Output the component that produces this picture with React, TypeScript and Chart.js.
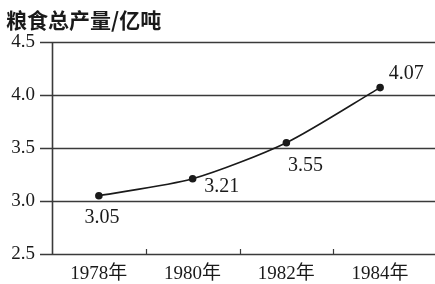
import React, { useEffect, useRef } from "react";
import { Chart, registerables } from "chart.js";

Chart.register(...registerables);

const titleText = "粮食总产量/亿吨";
const categories = ["1978年", "1980年", "1982年", "1984年"];
const values = [3.05, 3.21, 3.55, 4.07];
const valueLabels = ["3.05", "3.21", "3.55", "4.07"];
const yTicks = [2.5, 3.0, 3.5, 4.0, 4.5];

const INK = "#1a1a1a";
const GRID = "#3a3a3a";
const SERIF = "'Liberation Serif', 'Noto Sans CJK SC', serif";

const decorPlugin = {
  id: "decor",
  beforeDatasetsDraw(chart: any) {
    const { ctx, chartArea, scales } = chart;
    const y = scales.y;
    const x = scales.x;
    ctx.save();
    ctx.strokeStyle = GRID;
    ctx.lineWidth = 1.6;
    yTicks.forEach((t) => {
      const py = Math.round(y.getPixelForValue(t)) + 0.5;
      ctx.beginPath();
      ctx.moveTo(chartArea.left - 12, py);
      ctx.lineTo(chart.width, py);
      ctx.stroke();
    });
    ctx.beginPath();
    ctx.moveTo(chartArea.left + 0.5, chartArea.top);
    ctx.lineTo(chartArea.left + 0.5, chartArea.bottom);
    ctx.stroke();
    ctx.lineWidth = 1.2;
    for (let i = 0; i < categories.length - 1; i++) {
      const px = Math.round((x.getPixelForValue(i) + x.getPixelForValue(i + 1)) / 2) + 0.5;
      ctx.beginPath();
      ctx.moveTo(px, chartArea.bottom);
      ctx.lineTo(px, chartArea.bottom - 5);
      ctx.stroke();
    }
    ctx.restore();
  },
  afterDatasetsDraw(chart: any) {
    const { ctx } = chart;
    const meta = chart.getDatasetMeta(0);
    const offsets = [
      [3, 22],
      [29, 8],
      [19, 23],
      [26, -14],
    ];
    ctx.save();
    ctx.fillStyle = INK;
    ctx.font = "20px " + SERIF;
    ctx.textAlign = "center";
    ctx.textBaseline = "middle";
    meta.data.forEach((pt: any, i: number) => {
      ctx.fillText(valueLabels[i], pt.x + offsets[i][0], pt.y + offsets[i][1]);
    });
    ctx.font = "bold 21px 'Noto Sans CJK SC', sans-serif";
    ctx.textAlign = "left";
    ctx.fillText(titleText, 6, 20);
    ctx.restore();
  },
};

export default function App() {
  const ref = useRef<HTMLCanvasElement>(null);
  useEffect(() => {
    if (!ref.current) return;
    const chart = new Chart(ref.current, {
      type: "line",
      data: {
        labels: categories,
        datasets: [
          {
            data: values,
            borderColor: INK,
            borderWidth: 1.6,
            pointRadius: 3,
            pointBackgroundColor: INK,
            pointBorderColor: INK,
            tension: 0.25,
          },
        ],
      },
      options: {
        animation: false,
        responsive: false,
        maintainAspectRatio: false,
        layout: { padding: { top: 42, right: 8, left: 0, bottom: 0 } },
        plugins: {
          legend: { display: false },
          tooltip: { enabled: false },
          title: { display: false },
        },
        scales: {
          x: {
            type: "category",
            offset: true,
            grid: { display: false },
            border: { display: false },
            ticks: {
              color: INK,
              padding: 1,
              font: { size: 19, family: SERIF },
              maxRotation: 0,
            },
            afterFit(scale: any) {
              scale.height = 30;
            },
          },
          y: {
            min: 2.5,
            max: 4.5,
            afterBuildTicks(scale: any) {
              scale.ticks = yTicks.map((v) => ({ value: v }));
            },
            grid: { display: false, drawTicks: false },
            border: { display: false },
            ticks: {
              color: INK,
              padding: 17,
              font: { size: 19, family: SERIF },
              callback: (v: any) => Number(v).toFixed(1),
            },
            afterFit(scale: any) {
              scale.width = 52;
            },
          },
        },
      },
      plugins: [decorPlugin],
    });
    return () => chart.destroy();
  }, []);
  return (
    <div style={{ position: "absolute", left: 0, top: 0, width: 435, height: 284, background: "#fff" }}>
      <canvas ref={ref} width={435} height={284} style={{ display: "block" }} />
    </div>
  );
}
